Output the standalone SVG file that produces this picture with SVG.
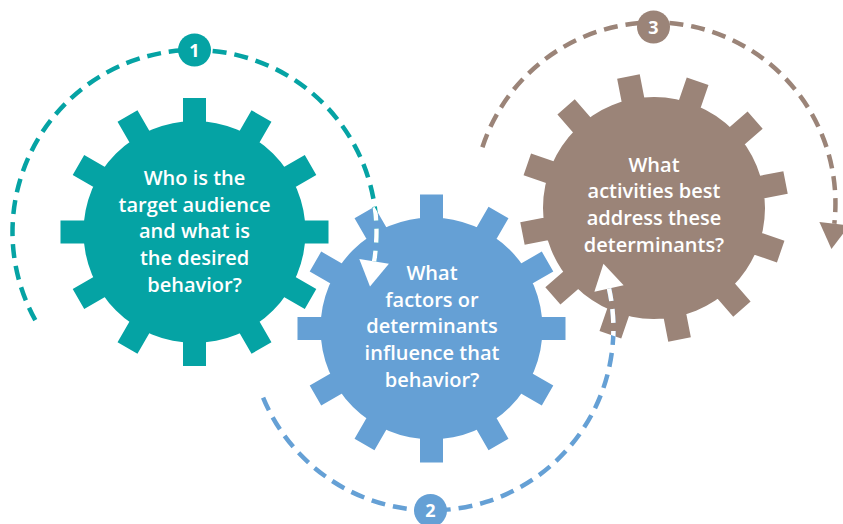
<svg xmlns="http://www.w3.org/2000/svg" width="843" height="524" viewBox="0 0 843 524">
<style>
.lbl{font-family:"Open Sans","Noto Sans","Liberation Sans",sans-serif;font-size:20px;font-weight:600;fill:#fff;text-anchor:middle}
.num{font-family:"Open Sans","Noto Sans","Liberation Sans",sans-serif;font-size:18px;font-weight:700;fill:#fff;text-anchor:middle}
.arc{fill:none;stroke-width:4.5;stroke-dasharray:14 8}
.teal{fill:#05A3A4}
.blue{fill:#65A0D5}
.brown{fill:#9B8478}
</style>
<defs>
<path id="gear" d="M-111,0 A111,111 0 1,1 111,0 A111,111 0 1,1 -111,0 Z M-11.5,-134 L11.5,-134 L11.5,134 L-11.5,134 Z M57.04,-121.79 L76.96,-110.29 L-57.04,121.79 L-76.96,110.29 Z M110.29,-76.96 L121.79,-57.04 L-110.29,76.96 L-121.79,57.04 Z M134,-11.5 L134,11.5 L-134,11.5 L-134,-11.5 Z M121.79,57.04 L110.29,76.96 L-121.79,-57.04 L-110.29,-76.96 Z M76.96,110.29 L57.04,121.79 L-76.96,-110.29 L-57.04,-121.79 Z"/>
<clipPath id="clip2"><use href="#gear" transform="translate(431.5,328.5)"/></clipPath>
<clipPath id="clip3"><use href="#gear" transform="translate(654,208) rotate(-11)"/></clipPath>
<marker id="ahWhite" markerUnits="userSpaceOnUse" markerWidth="30" markerHeight="30" refX="0" refY="13" viewBox="0 0 23 26" orient="auto" overflow="visible"><path d="M0,0 L22,13 L0,26 Z" fill="#fff"/></marker>
<marker id="ahBrown" markerUnits="userSpaceOnUse" markerWidth="30" markerHeight="30" refX="0" refY="13" viewBox="0 0 23 26" orient="auto" overflow="visible"><path d="M0,0 L22,13 L0,26 Z" fill="#9B8478"/></marker>
</defs>
<rect width="843" height="524" fill="#fff"/>
<g id="node1">
<use href="#gear" class="teal" transform="translate(194.5,232)"/>
<text class="lbl" x="194.5" y="185">Who is the</text>
<text class="lbl" x="194.5" y="211.7">target audience</text>
<text class="lbl" x="194.5" y="238.3">and what is</text>
<text class="lbl" x="194.5" y="265">the desired</text>
<text class="lbl" x="194.5" y="291.7">behavior?</text>
</g>
<g id="node2">
<use href="#gear" class="blue" transform="translate(431.5,328.5)"/>
<text class="lbl" x="432" y="280">What</text>
<text class="lbl" x="432" y="306.7">factors or</text>
<text class="lbl" x="432" y="333.3">determinants</text>
<text class="lbl" x="432" y="360">influence that</text>
<text class="lbl" x="432" y="386.7">behavior?</text>
</g>
<g id="node3">
<use href="#gear" class="brown" transform="translate(654,208) rotate(-11)"/>
<text class="lbl" x="654" y="171.7">What</text>
<text class="lbl" x="654" y="198.3">activities best</text>
<text class="lbl" x="654" y="225">address these</text>
<text class="lbl" x="654" y="251.7">determinants?</text>
</g>
<g id="connectors">
<path class="arc" stroke="#05A3A4" d="M35.3,320.2 A182,182 0 1,1 374.1,261.4"/>
<path class="arc" stroke="#65A0D5" d="M263.1,397.6 A182,182 0 0,0 609,288.5"/>
<path class="arc" stroke="#9B8478" d="M482.4,147.2 A181,181 0 0,1 834.3,223.8" marker-end="url(#ahBrown)"/>
<g clip-path="url(#clip2)">
<path class="arc" stroke="#fff" d="M35.3,320.2 A182,182 0 1,1 374.1,261.4" marker-end="url(#ahWhite)"/>
</g>
<g clip-path="url(#clip3)">
<path class="arc" stroke="#fff" d="M263.1,397.6 A182,182 0 0,0 609,288.5" marker-end="url(#ahWhite)"/>
</g>
</g>
<g id="badge1">
<circle cx="194.5" cy="50" r="16.5" class="teal"/>
<text class="num" x="194.5" y="56.5">1</text>
</g>
<g id="badge2">
<circle cx="430.5" cy="510.5" r="16.5" class="blue"/>
<text class="num" x="430.5" y="517">2</text>
</g>
<g id="badge3">
<circle cx="653.5" cy="27" r="16.5" class="brown"/>
<text class="num" x="653.5" y="33.5">3</text>
</g>
</svg>
